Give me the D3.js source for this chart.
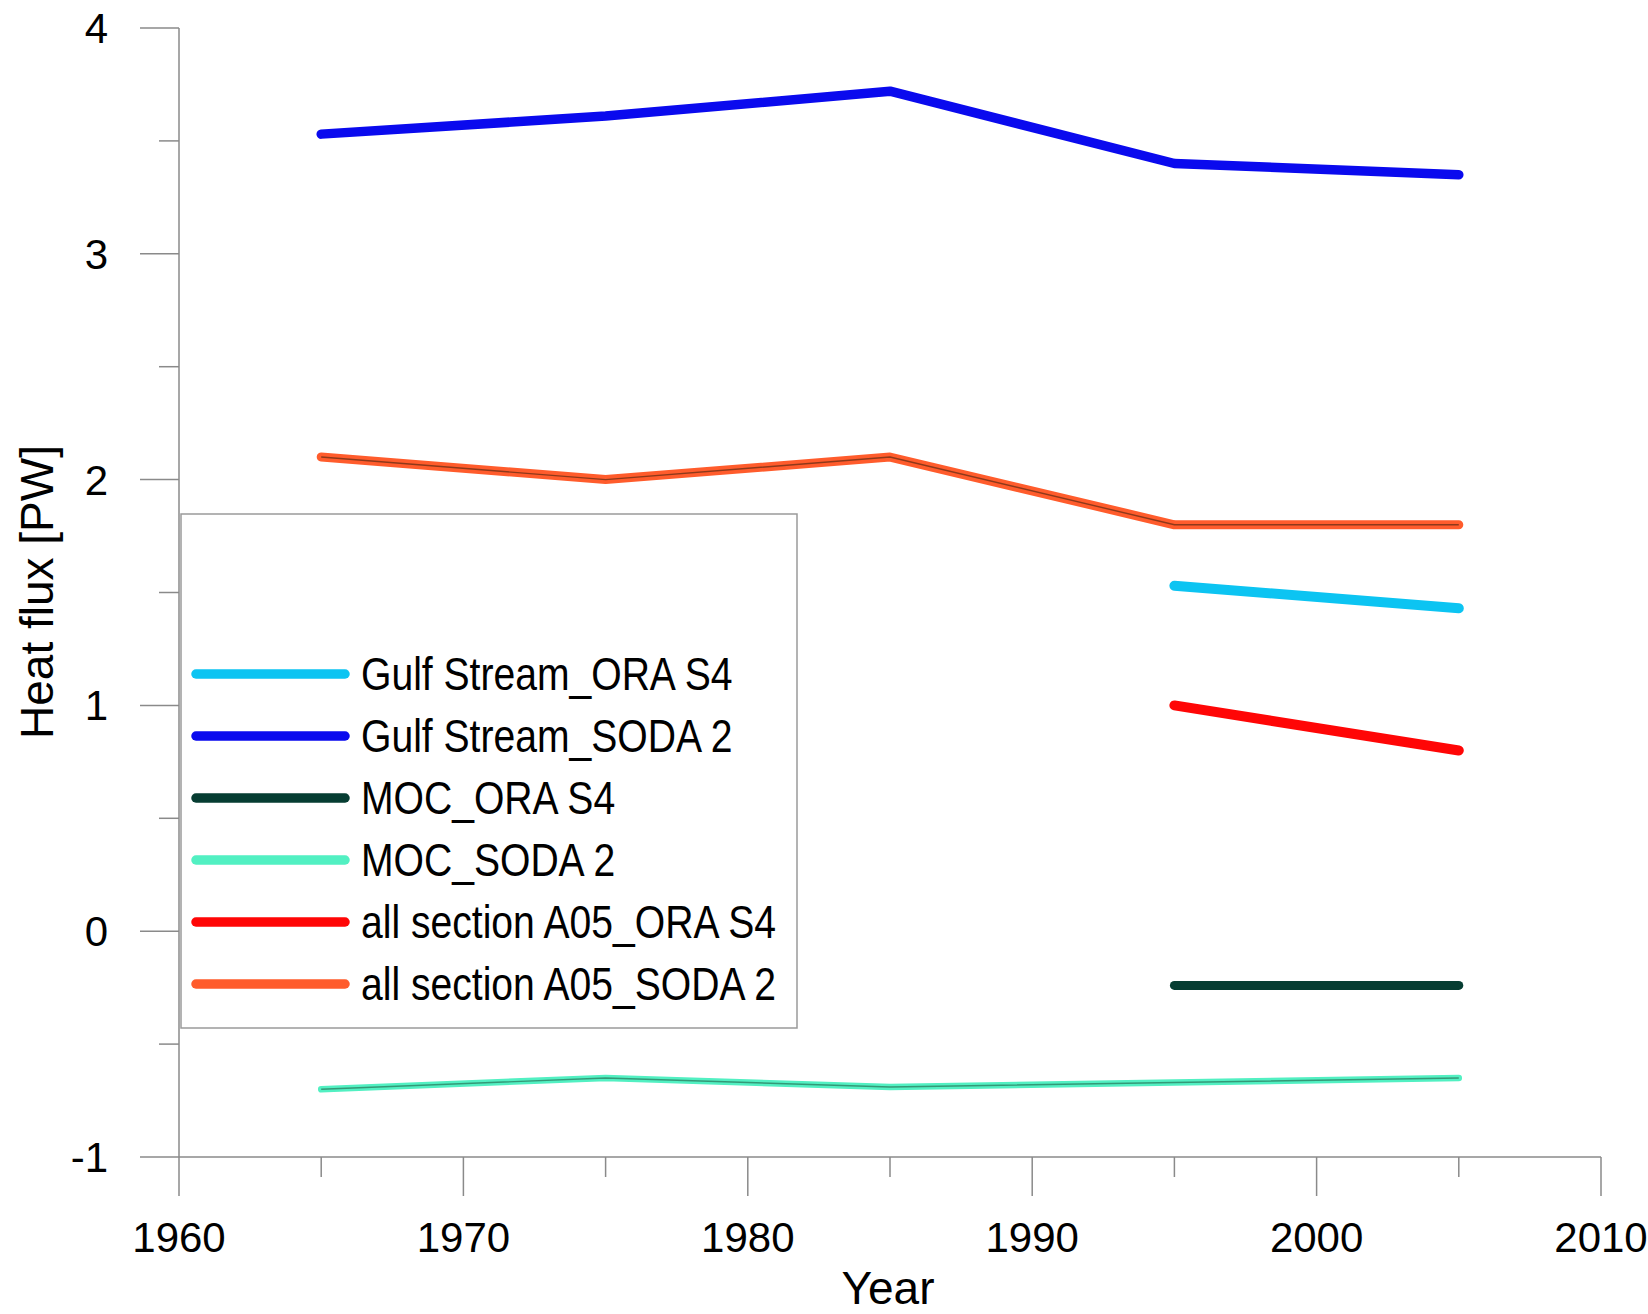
<!DOCTYPE html>
<html>
<head>
<meta charset="utf-8">
<script src="https://cdn.jsdelivr.net/npm/d3@7"></script>
<style>
  body { margin: 0; background: #fff; }
  text { font-family: "Liberation Sans", Arial, sans-serif; fill: #000; }
</style>
</head>
<body>
<script>
/* global d3 */

const years = [1965, 1975, 1985, 1995, 2005];
const gulfOra = [null, null, null, 1.53, 1.43];
const gulfSoda = [3.53, 3.61, 3.72, 3.40, 3.35];
const mocOra = [null, null, null, -0.24, -0.24];
const mocSoda = [-0.70, -0.65, -0.69, -0.67, -0.65];
const a05Ora = [null, null, null, 1.0, 0.80];
const a05Soda = [2.1, 2.0, 2.1, 1.8, 1.8];

const seriesNames = ['Gulf Stream_ORA S4', 'Gulf Stream_SODA 2', 'MOC_ORA S4',
  'MOC_SODA 2', 'all section A05_ORA S4', 'all section A05_SODA 2'];
const seriesValues = [gulfOra, gulfSoda, mocOra, mocSoda, a05Ora, a05Soda];
const seriesColors = ['#0cc4f2', '#0a0aee', '#063d32', '#52f0c2', '#ff0606', '#ff5c2c'];
const seriesWidths = [10, 9.5, 9, 6.5, 10, 9];
const innerColors = [null, null, null, '#2f8a6a', null, '#7a3218'];

const xTicks = [1960, 1970, 1980, 1990, 2000, 2010];
const yTicks = [-1, 0, 1, 2, 3, 4];

const width = 1648;
const height = 1314;

const x = d3.scaleLinear().domain([1960, 2010]).range([179, 1601]);
const y = d3.scaleLinear().domain([-1, 4]).range([1157, 28]);

const svg = d3.select('body').append('svg')
  .attr('width', width)
  .attr('height', height);

const axisColor = '#8a8a8a';

// y axis
const yAxis = svg.append('g').attr('transform', `translate(${x(1960)},0)`);
yAxis.append('line')
  .attr('x1', 0).attr('x2', 0)
  .attr('y1', y(4)).attr('y2', y(-1))
  .attr('stroke', axisColor).attr('stroke-width', 1.5);
yAxis.selectAll('.major')
  .data(yTicks)
  .join('line')
  .attr('x1', -39).attr('x2', 0)
  .attr('y1', (d) => y(d)).attr('y2', (d) => y(d))
  .attr('stroke', axisColor).attr('stroke-width', 1.5);
yAxis.selectAll('.minor')
  .data(d3.range(-0.5, 4, 1))
  .join('line')
  .attr('x1', -20).attr('x2', 0)
  .attr('y1', (d) => y(d)).attr('y2', (d) => y(d))
  .attr('stroke', axisColor).attr('stroke-width', 1.5);
yAxis.selectAll('text')
  .data(yTicks)
  .join('text')
  .attr('x', -71)
  .attr('y', (d) => y(d) + 15)
  .attr('text-anchor', 'end')
  .style('font-size', '42px')
  .text((d) => d);

// x axis
const xAxis = svg.append('g').attr('transform', `translate(0,${y(-1)})`);
xAxis.append('line')
  .attr('x1', x(1960)).attr('x2', x(2010))
  .attr('y1', 0).attr('y2', 0)
  .attr('stroke', axisColor).attr('stroke-width', 1.5);
xAxis.selectAll('.major')
  .data(xTicks)
  .join('line')
  .attr('x1', (d) => x(d)).attr('x2', (d) => x(d))
  .attr('y1', 0).attr('y2', 39)
  .attr('stroke', axisColor).attr('stroke-width', 1.5);
xAxis.selectAll('.minor')
  .data(d3.range(1965, 2010, 10))
  .join('line')
  .attr('x1', (d) => x(d)).attr('x2', (d) => x(d))
  .attr('y1', 0).attr('y2', 20)
  .attr('stroke', axisColor).attr('stroke-width', 1.5);
xAxis.selectAll('text')
  .data(xTicks)
  .join('text')
  .attr('x', (d) => x(d))
  .attr('y', 95)
  .attr('text-anchor', 'middle')
  .style('font-size', '42px')
  .text((d) => d);

svg.append('text')
  .attr('x', 888)
  .attr('y', 1304)
  .attr('text-anchor', 'middle')
  .style('font-size', '46px')
  .text('Year');

svg.append('text')
  .attr('transform', 'translate(53,592) rotate(-90)')
  .attr('text-anchor', 'middle')
  .style('font-size', '46px')
  .text('Heat flux [PW]');

// lines
const line = d3.line()
  .defined((d) => d.v !== null)
  .x((d) => x(d.year))
  .y((d) => y(d.v));

seriesValues.forEach((vals, i) => {
  const pts = years.map((yr, j) => ({ year: yr, v: vals[j] }));
  svg.append('path')
    .attr('d', line(pts))
    .attr('fill', 'none')
    .attr('stroke', seriesColors[i])
    .attr('stroke-width', seriesWidths[i])
    .attr('stroke-linecap', 'round')
    .attr('stroke-linejoin', 'round');
  if (innerColors[i]) {
    svg.append('path')
      .attr('d', line(pts))
      .attr('fill', 'none')
      .attr('stroke', innerColors[i])
      .attr('stroke-width', 1.4)
      .attr('stroke-opacity', 0.85);
  }
});

// legend
const legend = svg.append('g');
legend.append('rect')
  .attr('x', 181).attr('y', 514)
  .attr('width', 616).attr('height', 514)
  .attr('fill', '#fff')
  .attr('stroke', '#9a9a9a')
  .attr('stroke-width', 1.5);

const rows = legend.selectAll('.row')
  .data(seriesNames)
  .join('g')
  .attr('transform', (d, i) => `translate(0,${674 + i * 62})`);
rows.append('line')
  .attr('x1', 196).attr('x2', 345)
  .attr('y1', 0).attr('y2', 0)
  .attr('stroke', (d, i) => seriesColors[i])
  .attr('stroke-width', 9.5)
  .attr('stroke-linecap', 'round');
rows.append('text')
  .attr('transform', 'translate(361,16) scale(0.85,1)')
  .style('font-size', '46px')
  .text((d) => d);
</script>
</body>
</html>
